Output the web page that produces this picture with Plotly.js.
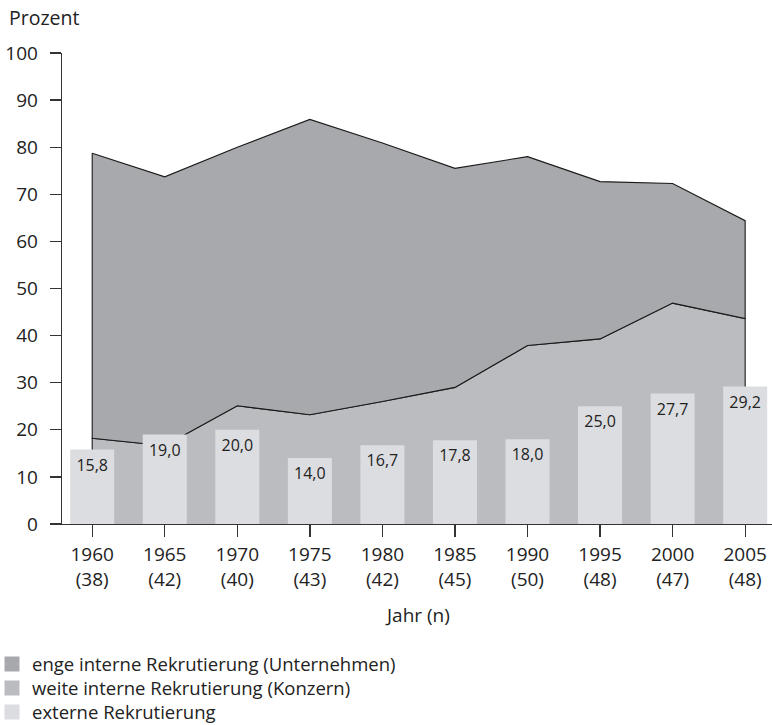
<!DOCTYPE html>
<html>
<head>
<meta charset="utf-8">
<script src="https://cdn.plot.ly/plotly-3.0.1.min.js"></script>
<style>
  html, body { margin: 0; padding: 0; background: #ffffff; }
  #chart { width: 772px; height: 725px; }
</style>
</head>
<body>
<div id="chart"></div>
<script>
// ---- data ----
const years = ['1960', '1965', '1970', '1975', '1980', '1985', '1990', '1995', '2000', '2005'];
const nCounts = ['38', '42', '40', '43', '42', '45', '50', '48', '47', '48'];
// cumulative top of "enge interne Rekrutierung" (total internal), in %
const totalInternal = [78.7, 73.7, 80.0, 85.9, 80.9, 75.5, 78.0, 72.7, 72.3, 64.4];
// top of "weite interne Rekrutierung" (Konzern), in %
const wideInternal = [18.2, 16.6, 25.1, 23.2, 26.0, 29.0, 37.9, 39.3, 46.9, 43.6];
// externe Rekrutierung (bars), in %
const external = [15.8, 19.0, 20.0, 14.0, 16.7, 17.8, 18.0, 25.0, 27.7, 29.2];
const yTicks = [0, 10, 20, 30, 40, 50, 60, 70, 80, 90, 100];

const seriesNames = [
  'enge interne Rekrutierung (Unternehmen)',
  'weite interne Rekrutierung (Konzern)',
  'externe Rekrutierung'
];
const colDark = '#a8a9ad';
const colMid = '#bbbcc0';
const colLight = '#dcdde0';

// ---- build traces ----
const idx = years.map((_, i) => i);
const last = idx.length - 1;
const tickText = years.map((y, i) => y + '<br>(' + nCounts[i] + ')');

// medium area: polygon from baseline up along wideInternal and back down
const midX = [0].concat(idx, [last]);
const midY = [0].concat(wideInternal, [0]);

// dark area: between wideInternal and totalInternal
const darkX = idx.concat(idx.slice().reverse(), [0]);
const darkY = totalInternal.concat(wideInternal.slice().reverse(), [totalInternal[0]]);

const legendIds = ['legend', 'legend2', 'legend3'];
const legendCols = [colDark, colMid, colLight];

const traces = [
  {
    type: 'scatter', mode: 'lines', x: midX, y: midY,
    fill: 'toself', fillcolor: colMid,
    line: { color: '#1a1a1a', width: 1.1 },
    showlegend: false, hoverinfo: 'skip'
  },
  {
    type: 'scatter', mode: 'lines', x: darkX, y: darkY,
    fill: 'toself', fillcolor: colDark,
    line: { color: '#1a1a1a', width: 1.1 },
    showlegend: false, hoverinfo: 'skip'
  },
  {
    type: 'bar', x: idx, y: external, xaxis: 'x2', yaxis: 'y2',
    width: 0.607,
    marker: { color: colLight, line: { width: 0 } },
    showlegend: false, hoverinfo: 'skip'
  },
  {
    type: 'scatter', mode: 'markers+text', x: idx, y: external, xaxis: 'x2', yaxis: 'y2',
    texttemplate: '%{y:.1f}', textposition: 'bottom center',
    marker: { size: 13, color: 'rgba(0,0,0,0)', line: { width: 0 } },
    textfont: { family: 'Open Sans', size: 16, color: '#222222' },
    showlegend: false, hoverinfo: 'skip', cliponaxis: false
  }
];
// legend entries (one legend per row)
seriesNames.forEach((nm, i) => {
  traces.push({
    type: 'bar', x: [null], y: [null], xaxis: 'x2', yaxis: 'y2', name: nm,
    marker: { color: legendCols[i], line: { width: 3, color: legendCols[i] } },
    legend: legendIds[i], showlegend: true
  });
});

const W = 772, H = 725;
const mL = 62, mR = 0, mT = 53, mB = 201;
const xRange = [-0.4163, 9.370];
const fontFam = 'Open Sans';
const txtCol = '#222222';
const rowY = [664.5, 688.5, 712.5];

const layout = {
  width: W, height: H,
  margin: { l: mL, r: mR, t: mT, b: mB, pad: 0, autoexpand: false },
  paper_bgcolor: '#ffffff', plot_bgcolor: '#ffffff',
  font: { family: fontFam, size: 19, color: txtCol },
  separators: ',.',
  barmode: 'overlay',
  showlegend: true,
  xaxis: {
    range: xRange, tickmode: 'array', tickvals: idx, ticktext: tickText,
    ticks: 'outside', ticklen: 12, tickwidth: 1.3, tickcolor: '#333333',
    showline: true, linecolor: '#333333', linewidth: 1.3,
    showgrid: false, zeroline: false, fixedrange: true,
    ticklabelstandoff: 1,
    tickfont: { family: fontFam, size: 19, color: txtCol }
  },
  yaxis: {
    range: [0, 100], tickmode: 'array', tickvals: yTicks,
    ticks: 'outside', ticklen: 11, tickwidth: 1.3, tickcolor: '#333333',
    showline: true, linecolor: '#333333', linewidth: 1.3,
    showgrid: false, zeroline: false, fixedrange: true,
    ticklabelstandoff: 8,
    tickfont: { family: fontFam, size: 19, color: txtCol }
  },
  xaxis2: { overlaying: 'x', matches: 'x', anchor: 'y2', range: xRange, visible: false, fixedrange: true },
  yaxis2: { overlaying: 'y', range: [0, 100], visible: false, fixedrange: true },
  annotations: [
    {
      text: 'Prozent', xref: 'paper', yref: 'paper',
      x: (7 - mL) / (W - mL - mR), y: (H - mB - 17) / (H - mB - mT),
      xanchor: 'left', yanchor: 'middle', showarrow: false,
      font: { family: fontFam, size: 19.5, color: txtCol }
    },
    {
      text: 'Jahr (n)', xref: 'paper', yref: 'paper',
      x: 0.5, y: (H - mB - 615) / (H - mB - mT),
      xanchor: 'center', yanchor: 'middle', showarrow: false,
      font: { family: fontFam, size: 19, color: txtCol }
    }
  ]
};

legendIds.forEach((id, i) => {
  layout[id] = {
    xref: 'container', yref: 'container',
    x: 0, xanchor: 'left', y: 1 - rowY[i] / H, yanchor: 'middle',
    indentation: -8,
    font: { family: fontFam, size: 18.5, color: txtCol },
    bgcolor: 'rgba(0,0,0,0)', borderwidth: 0
  };
});

Plotly.newPlot('chart', traces, layout, { displayModeBar: false, staticPlot: true });
</script>
</body>
</html>
